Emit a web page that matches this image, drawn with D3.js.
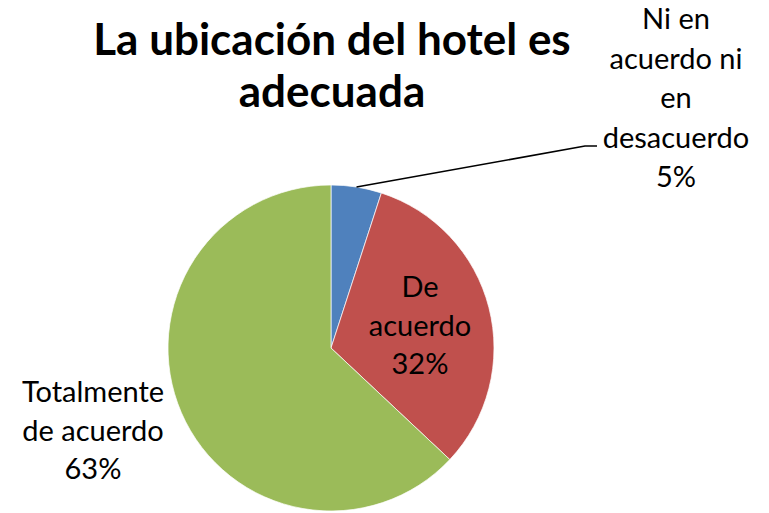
<!DOCTYPE html>
<html lang="es">
<head>
<meta charset="UTF-8">
<title>La ubicación del hotel es adecuada</title>
<style>
  body { margin: 0; padding: 0; background: #fff; font-family: Lato, "Open Sans", sans-serif; }
</style>
</head>
<body>
<div id="chart"></div>
<script src="https://d3js.org/d3.v7.min.js"></script>
<script>
// data
var categories = ["Ni en acuerdo ni en desacuerdo", "De acuerdo", "Totalmente de acuerdo"];
var values = [5, 32, 63];
var colors = ["#4F81BD", "#C0504D", "#9BBB59"];
// label lines
var labelLines = [
  ["Ni en", "acuerdo ni", "en", "desacuerdo", "5%"],
  ["De", "acuerdo", "32%"],
  ["Totalmente", "de acuerdo", "63%"]
];

var W = 769, H = 513;
var cx = 331, cy = 348, r = 163;

var svg = d3.select("#chart").append("svg")
  .attr("width", W).attr("height", H);

// title
svg.append("text")
  .attr("text-anchor", "middle")
  .attr("font-weight", "bold")
  .attr("font-size", "44px")
  .attr("fill", "#000")
  .selectAll("tspan")
  .data(["La ubicación del hotel es", "adecuada"])
  .enter().append("tspan")
  .attr("x", 332)
  .attr("y", (d, i) => 55 + i * 52)
  .text(d => d);

var pie = d3.pie().sort(null).value(d => d);
var arcs = pie(values);
var arc = d3.arc().innerRadius(0).outerRadius(r);

var g = svg.append("g").attr("transform", "translate(" + cx + "," + cy + ")");

g.selectAll("path")
  .data(arcs)
  .enter().append("path")
  .attr("d", arc)
  .attr("fill", (d, i) => colors[i])
  .attr("stroke", "#fff")
  .attr("stroke-width", 0.7);

// leader line for the small slice
var a0 = arcs[0];
var mid = (a0.startAngle + a0.endAngle) / 2;
var p0 = [cx + Math.sin(mid) * r, cy - Math.cos(mid) * r];
svg.append("polyline")
  .attr("points", [p0, [585, 146], [597, 146]].map(p => p.join(",")).join(" "))
  .attr("fill", "none")
  .attr("stroke", "#000")
  .attr("stroke-width", 1.6);

// labels
var labelPos = [
  { x: 676, y: 29, step: 39.5 },
  { x: 420, y: 297, step: 38.5 },
  { x: 93, y: 402, step: 38.5 }
];

labelLines.forEach(function(lines, i) {
  var t = svg.append("text")
    .attr("text-anchor", "middle")
    .attr("font-size", "29px")
    .attr("fill", "#000");
  t.selectAll("tspan")
    .data(lines)
    .enter().append("tspan")
    .attr("x", labelPos[i].x)
    .attr("y", (d, j) => labelPos[i].y + j * labelPos[i].step)
    .text(d => d);
});
</script>
</body>
</html>
